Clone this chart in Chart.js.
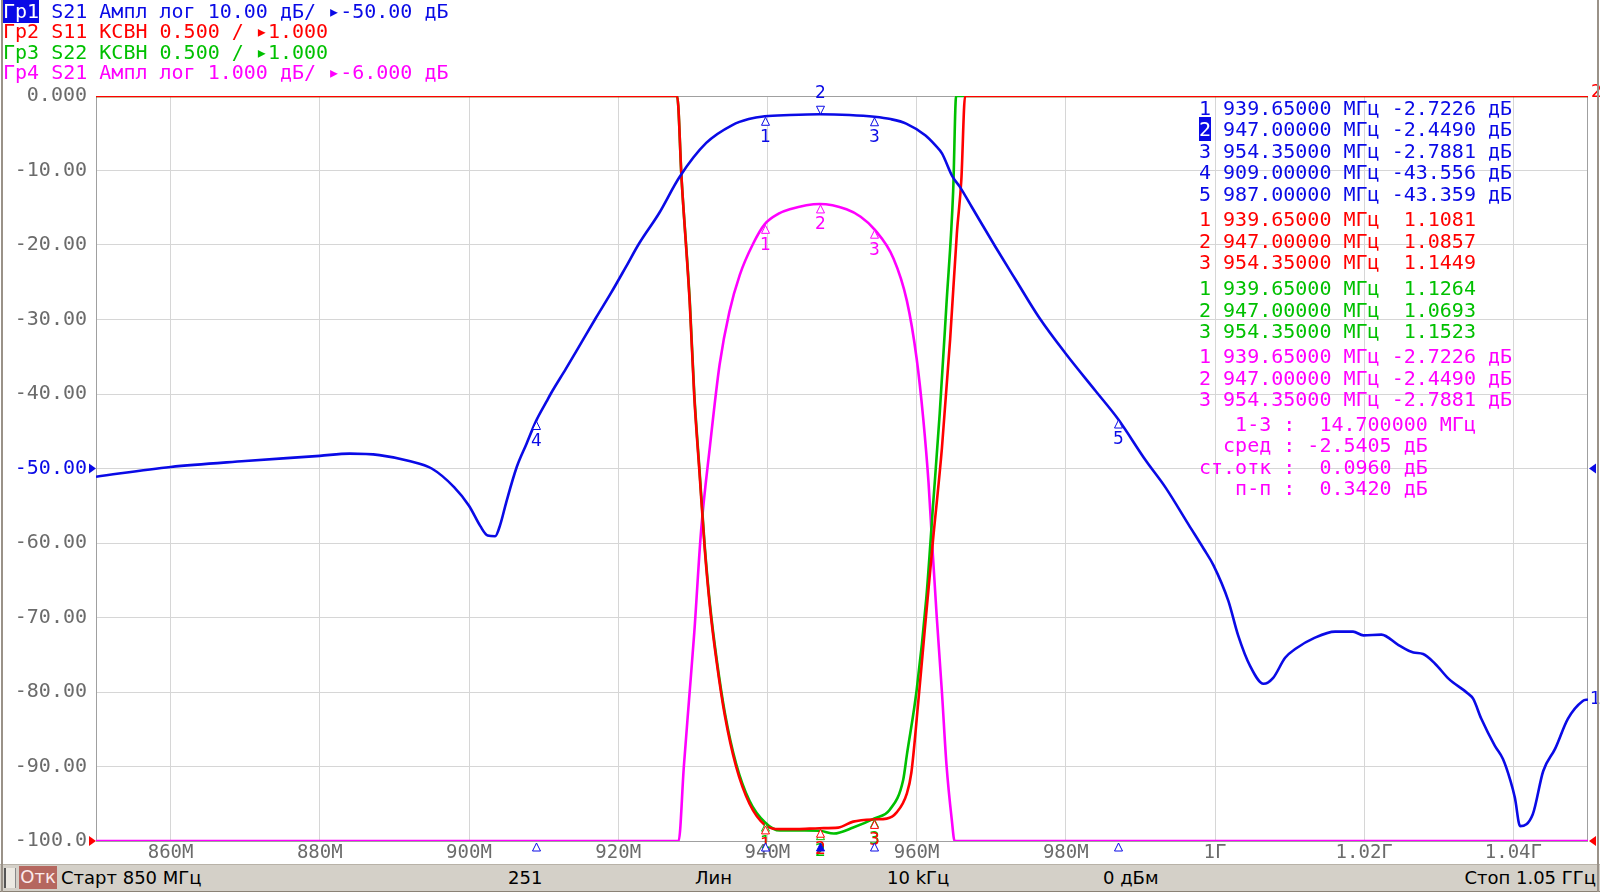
<!DOCTYPE html>
<html>
<head>
<meta charset="utf-8">
<script src="https://cdn.jsdelivr.net/npm/chart.js@4.4.1/dist/chart.umd.min.js"></script>
<style>
  html, body { margin: 0; padding: 0; background: #fff; }
  #wrap { position: relative; width: 1600px; height: 892px; overflow: hidden; background: #fff; }
  #c { position: absolute; left: 0; top: 0; }
  .mono { font-family: "DejaVu Sans Mono", monospace; font-size: 20px; white-space: pre; }
  #hdr { position: absolute; left: 3px; top: 1px; line-height: 20.4px; }
  .grp { position: absolute; left: 1199px; line-height: 21.5px; }
  .hl { color: #fff; background: #0a0ae6; }
  #status { position: absolute; left: 0; top: 864px; width: 1600px; height: 26px; background: #d4d0c8;
            border-top: 1px solid #b8b2a8; border-bottom: 2px solid #8a8276;
            font-family: "DejaVu Sans", sans-serif; font-size: 18px; color: #000; }
  #status span { position: absolute; top: 2px; line-height: 22px; }
  .frameL { position: absolute; left: 1px; top: 0; width: 2px; height: 892px; background: #9a9288; }
  .frameR { position: absolute; left: 1597px; top: 0; width: 2px; height: 892px; background: #9a9288; }
</style>
</head>
<body>
<div id="wrap">
  <canvas id="c" width="1600" height="864" style="width:1600px;height:864px"></canvas>
  <div id="hdr" class="mono"></div>
  <div id="tbl"></div>
  <div id="status">
    <span style="left:4px;top:3px;width:9px;height:20px;background:#ece9e2;border-left:2px solid #555;border-right:1px solid #888"></span>
    <span style="left:19px;top:1px;width:38px;height:23px;background:#b5675f;color:#fbeaea;text-align:center">Отк</span>
    <span style="left:61px">Старт 850 МГц</span>
    <span style="left:508px">251</span>
    <span style="left:695px">Лин</span>
    <span style="left:887px">10 kГц</span>
    <span style="left:1103px">0 дБм</span>
    <span style="right:4px">Стоп 1.05 ГГц</span>
  </div>
  <div class="frameL"></div>
  <div class="frameR"></div>
</div>

<script>
/* ===================== DATA ===================== */
// Гр1: S21, dB (wide scale)
const s21Freq = [850,860,870,880,884,888,892,895,898,900,901.5,902.5,903.5,904.2,905,906.4,907.7,909,910.4,911,
  913,915,917,919,921,922.8,925.5,928.2,931.8,935.3,937.5,939.65,943,947,951,954.35,956.5,958.6,961.2,962.5,
  963.4,964.8,965.8,967.4,970.6,973.3,976.4,980,984,987,990.7,993.4,996.5,998.5,999.8,1001.8,1003.1,1004.7,1006.5,1007.8,
  1009.4,1010.8,1013.4,1016.1,1018.5,1019.9,1022.3,1024.6,1026.6,1027.9,1029.5,1031.3,1033.9,1034.6,1035.7,1037.5,1038.6,1039.6,1040.2,1040.9,
  1042.6,1044.0,1045.6,1047.3,1049.3,1050];
const s21Db = [-51.1,-49.8,-49.0,-48.3,-48.0,-48.2,-49.0,-50.0,-52.5,-55.0,-57.7,-59.0,-59.1,-57.5,-54.5,-49.8,-46.7,-43.6,-41.0,-39.9,
  -36.6,-33.2,-29.8,-26.5,-23.0,-19.8,-15.7,-10.9,-6.3,-3.9,-3.1,-2.72,-2.55,-2.45,-2.55,-2.79,-3.1,-3.7,-5.3,-6.6,
  -7.7,-10.8,-12.2,-14.9,-20.3,-24.7,-29.7,-34.6,-39.6,-43.36,-48.9,-52.6,-57.6,-60.8,-63.0,-67.8,-72.4,-76.5,-78.9,-78.1,
  -75.4,-74.2,-72.7,-71.9,-71.9,-72.4,-72.3,-73.7,-74.7,-74.9,-76.2,-78.2,-80.2,-80.9,-83.6,-87.2,-89.0,-91.9,-94.2,-98.0,
  -96.4,-90.6,-87.6,-83.6,-81.2,-81.0];

// Гр2: S11 VSWR (6.0 = top of screen)
const s11Freq = [850,927.9,928.5,929.6,930.2,930.9,931.6,932.3,933.2,934.3,935.8,937.6,939.65,941.7,944,947,949.5,951.5,954.35,956,
  957.3,958.7,959.3,960.2,961.1,962.2,963.4,964.5,965.4,966.0,966.5,1050];
const s11Swr = [6,6,5.44,4.60,3.98,3.47,2.96,2.57,2.20,1.84,1.50,1.25,1.108,1.08,1.08,1.086,1.09,1.13,1.145,1.15,
  1.19,1.32,1.46,1.92,2.42,3.02,3.64,4.37,5.08,5.44,6,6];

// Гр3: S22 VSWR
const s22Freq = [850,927.9,928.5,929.6,930.2,930.9,931.6,932.3,933.2,934.3,935.8,937.6,939.65,941.7,945,947,948.9,951.5,954.35,956.4,
  958.2,958.7,960.0,961.3,962.2,963.1,964.0,964.9,965.3,1050];
const s22Swr = [6,6,5.44,4.62,4.0,3.49,2.98,2.59,2.22,1.86,1.52,1.27,1.126,1.07,1.07,1.069,1.05,1.09,1.152,1.21,
  1.41,1.58,2.01,2.63,3.25,3.87,4.60,5.36,6,6];

// Гр4: S21, dB (1 dB/div, -11 = bottom of screen)
const s21zFreq = [850,928.1,928.8,929.5,930.2,931.1,932.3,933.6,934.9,936.3,938.1,939.65,941.5,943,947,950.6,952.5,954.35,956.9,958.7,
  960,960.9,961.6,962.1,962.7,963.4,964.0,964.7,965.1,1050];
const s21zDb = [-11,-11,-10.0,-9.1,-8.2,-6.85,-5.7,-4.6,-3.9,-3.4,-2.98,-2.72,-2.58,-2.52,-2.45,-2.52,-2.62,-2.79,-3.18,-3.75,
  -4.52,-5.34,-6.19,-7.03,-7.99,-9.01,-9.97,-10.7,-11,-11];

// markers
const mkFreq = [939.65, 947, 954.35, 909, 987];
const mkS21 = [-2.7226, -2.4490, -2.7881, -43.556, -43.359];
const mkS11 = [1.1081, 1.0857, 1.1449];
const mkS22 = [1.1264, 1.0693, 1.1523];
const mkS21z = [-2.7226, -2.4490, -2.7881];
const activeMarker = 1;

const statLabels = ["   1-3 :", "  сред :", "ст.отк :", "   п-п :"];
const statValues = [" 14.700000 МГц", "-2.5405 дБ", " 0.0960 дБ", " 0.3420 дБ"];

// axes
const xTickValues = [860, 880, 900, 920, 940, 960, 980, 1000, 1020, 1040];
const xTickLabels = ["860M", "880M", "900M", "920M", "940M", "960M", "980M", "1Г", "1.02Г", "1.04Г"];
const yTickValues = [0, -10, -20, -30, -40, -50, -60, -70, -80, -90, -100];
const yTickLabels = ["0.000", "-10.00", "-20.00", "-30.00", "-40.00", "-50.00", "-60.00", "-70.00", "-80.00", "-90.00", "-100.0"];

const headerLines = [
  ["Гр1", " S21 Ампл лог 10.00 дБ/ ▸-50.00 дБ"],
  ["Гр2", " S11 КСВН 0.500 / ▸1.000"],
  ["Гр3", " S22 КСВН 0.500 / ▸1.000"],
  ["Гр4", " S21 Ампл лог 1.000 дБ/ ▸-6.000 дБ"]
];

/* ===================== COLORS ===================== */
const BLUE = "#0a0ae6";
const RED = "#ff0000";
const GREEN = "#00c000";
const MAGENTA = "#ff00ff";
const GREY = "#6b6b6b";
const traceColors = [BLUE, RED, GREEN, MAGENTA];

/* ===================== TEXT BLOCKS ===================== */
const hdr = document.getElementById("hdr");
headerLines.forEach((l, i) => {
  const d = document.createElement("div");
  d.style.color = traceColors[i];
  d.innerHTML = (i === 0 ? '<span class="hl">' + l[0] + '</span>' : l[0]) + l[1];
  hdr.appendChild(d);
});

function markerLine(i, f, val, unit, active) {
  const num = active ? '<span class="hl">' + (i + 1) + '</span>' : String(i + 1);
  return num + " " + f.toFixed(5) + " МГц " + val.toPrecision(5).padStart(7, " ") + unit;
}

const tbl = document.getElementById("tbl");
function addGroup(top, color, lines) {
  const g = document.createElement("div");
  g.className = "grp mono";
  g.style.top = top + "px";
  g.style.color = color;
  g.innerHTML = lines.join("\n");
  tbl.appendChild(g);
}
addGroup(97.5, BLUE, mkS21.map((v, i) => markerLine(i, mkFreq[i], v, " дБ", i === activeMarker)));
addGroup(209, RED, mkS11.map((v, i) => markerLine(i, mkFreq[i], v, "", false)));
addGroup(278, GREEN, mkS22.map((v, i) => markerLine(i, mkFreq[i], v, "", false)));
addGroup(346, MAGENTA, mkS21z.map((v, i) => markerLine(i, mkFreq[i], v, " дБ", false)));
addGroup(413.5, MAGENTA, statLabels.map((l, i) => l + " " + statValues[i]));

/* ===================== HELPERS ===================== */
function pts(xs, ys) {
  return xs.map((x, i) => ({ x: x, y: ys[i] }));
}

function tri(ctx, x, y, up, filled, color) {
  // apex at (x, y)
  const h = up ? 8 : -8;
  ctx.beginPath();
  ctx.moveTo(x, y);
  ctx.lineTo(x - 4, y + h);
  ctx.lineTo(x + 4, y + h);
  ctx.closePath();
  ctx.strokeStyle = color;
  ctx.lineWidth = 1;
  ctx.fillStyle = filled ? color : "#fff";
  ctx.fill();
  ctx.stroke();
}

function sideTri(ctx, x, y, right, color) {
  ctx.beginPath();
  if (right) {
    ctx.moveTo(x, y);
    ctx.lineTo(x - 7, y - 5);
    ctx.lineTo(x - 7, y + 5);
  } else {
    ctx.moveTo(x, y);
    ctx.lineTo(x + 7, y - 5);
    ctx.lineTo(x + 7, y + 5);
  }
  ctx.closePath();
  ctx.fillStyle = color;
  ctx.fill();
}

/* ===================== PLUGIN ===================== */
const vnaPlugin = {
  id: "vna",
  beforeDatasetsDraw(chart) {
    const a = chart.chartArea;
    const ctx = chart.ctx;
    ctx.save();
    ctx.strokeStyle = "#a0a0a0";
    ctx.lineWidth = 1;
    ctx.strokeRect(a.left + 0.5, a.top + 0.5, a.right - a.left - 1, a.bottom - a.top);
    ctx.restore();
  },
  afterDatasetsDraw(chart) {
    const ctx = chart.ctx;
    const sx = chart.scales.x;
    const a = chart.chartArea;
    ctx.save();
    ctx.font = '17px "DejaVu Sans"';
    ctx.textAlign = "center";
    ctx.textBaseline = "middle";

    function mark(f, v, scale, color, n, active) {
      const px = Math.round(sx.getPixelForValue(f)) + 0.5;
      const py = chart.scales[scale].getPixelForValue(v);
      if (active) {
        tri(ctx, px, py, false, false, color);
        ctx.fillStyle = color;
        ctx.fillText(String(n), px, py - 21);
      } else {
        tri(ctx, px, py + 1, true, false, color);
        ctx.fillStyle = color;
        ctx.fillText(String(n), px, py + 21);
      }
    }

    mkS22.forEach((v, i) => mark(mkFreq[i], v, "ySwr", GREEN, i + 1, false));
    mkS11.forEach((v, i) => mark(mkFreq[i], v, "ySwr", RED, i + 1, false));
    mkS21z.forEach((v, i) => mark(mkFreq[i], v, "yZoom", MAGENTA, i + 1, false));
    mkS21.forEach((v, i) => mark(mkFreq[i], v, "yDb", BLUE, i + 1, i === activeMarker));

    // marker positions on the frequency axis
    mkFreq.forEach((f, i) => {
      const px = Math.round(sx.getPixelForValue(f)) + 0.5;
      tri(ctx, px, a.bottom + 2, true, i === activeMarker, BLUE);
    });

    // reference level arrows
    const yRef = chart.scales.yDb.getPixelForValue(-50);
    sideTri(ctx, a.left, yRef, true, BLUE);
    sideTri(ctx, a.left, a.bottom, true, RED);
    sideTri(ctx, a.right + 1, yRef, false, BLUE);
    sideTri(ctx, a.right + 1, a.bottom, false, RED);

    // trace numbers at right edge
    ctx.textAlign = "left";
    ctx.fillStyle = BLUE;
    ctx.fillText("1", a.right + 2, chart.scales.yDb.getPixelForValue(s21Db[s21Db.length - 1]));
    ctx.fillStyle = RED;
    ctx.fillText("2", a.right + 3, a.top - 3);
    ctx.restore();
  }
};

/* ===================== CHART ===================== */
const lineBase = {
  pointRadius: 0,
  borderWidth: 2.6,
  fill: false,
  cubicInterpolationMode: "monotone"
};

new Chart(document.getElementById("c"), {
  type: "line",
  data: {
    datasets: [
      Object.assign({ label: "S21", data: pts(s21Freq, s21Db), borderColor: BLUE, yAxisID: "yDb", order: 0 }, lineBase),
      Object.assign({ label: "S11", data: pts(s11Freq, s11Swr), borderColor: RED, yAxisID: "ySwr", order: 1 }, lineBase),
      Object.assign({ label: "S22", data: pts(s22Freq, s22Swr), borderColor: GREEN, yAxisID: "ySwr", order: 2 }, lineBase),
      Object.assign({ label: "S21 zoom", data: pts(s21zFreq, s21zDb), borderColor: MAGENTA, yAxisID: "yZoom", order: 3 }, lineBase)
    ]
  },
  options: {
    responsive: false,
    animation: false,
    layout: { padding: { top: 96, right: 12, left: 0, bottom: 0 } },
    plugins: {
      legend: { display: false },
      tooltip: { enabled: false }
    },
    scales: {
      x: {
        type: "linear",
        min: 850,
        max: 1050,
        afterBuildTicks: (scale) => { scale.ticks = xTickValues.map(v => ({ value: v })); },
        afterFit: (scale) => { scale.height = 23; },
        grid: { color: "#d6d6d6", drawTicks: false },
        border: { display: false },
        ticks: {
          padding: 1,
          color: GREY,
          font: { family: "DejaVu Sans Mono", size: 19 },
          maxRotation: 0,
          autoSkip: false,
          callback: (v) => xTickLabels[xTickValues.indexOf(v)]
        }
      },
      yDb: {
        position: "left",
        min: -100,
        max: 0,
        afterBuildTicks: (scale) => { scale.ticks = yTickValues.map(v => ({ value: v })); },
        afterFit: (scale) => { scale.width = 96; },
        grid: { color: "#d6d6d6", drawTicks: false },
        border: { display: false },
        ticks: {
          padding: 9,
          autoSkip: false,
          font: { family: "DejaVu Sans Mono", size: 20 },
          color: (ctx) => (ctx.tick && ctx.tick.value === -50 ? BLUE : GREY),
          callback: (v) => yTickLabels[yTickValues.indexOf(v)]
        }
      },
      ySwr: { display: false, min: 1, max: 6 },
      yZoom: { display: false, min: -11, max: -1 }
    }
  },
  plugins: [vnaPlugin]
});
</script>
</body>
</html>
